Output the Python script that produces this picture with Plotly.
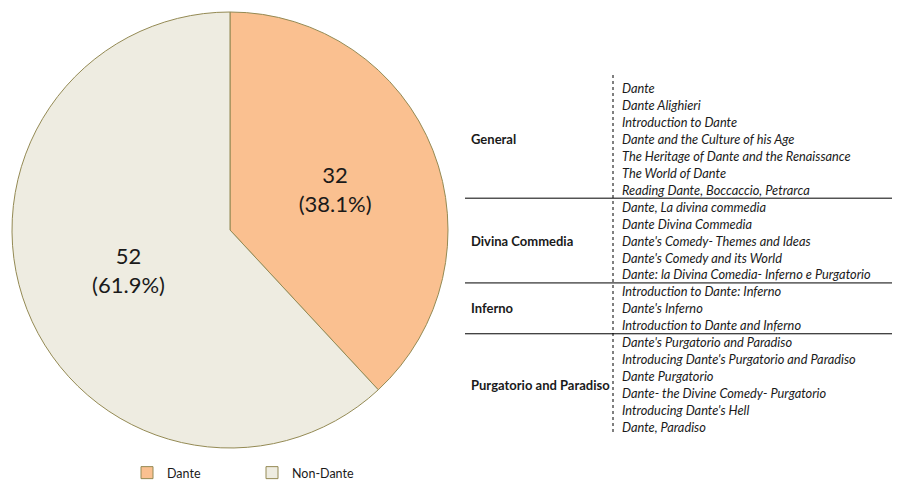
import plotly.graph_objects as go

# ---- data ----
labels = ["Dante", "Non-Dante"]
values = [32, 52]
colors = ["#FAC090", "#EEECE1"]

groups = ["General", "Divina Commedia", "Inferno", "Purgatorio and Paradiso"]
courses = [
    ["Dante", "Dante Alighieri", "Introduction to Dante",
     "Dante and the Culture of his Age",
     "The Heritage of Dante and the Renaissance", "The World of Dante",
     "Reading Dante, Boccaccio, Petrarca"],
    ["Dante, La divina commedia", "Dante Divina Commedia",
     "Dante's Comedy- Themes and Ideas", "Dante's Comedy and its World",
     "Dante: la Divina Comedia- Inferno e Purgatorio"],
    ["Introduction to Dante: Inferno", "Dante's Inferno",
     "Introduction to Dante and Inferno"],
    ["Dante's Purgatorio and Paradiso",
     "Introducing Dante's Purgatorio and Paradiso", "Dante Purgatorio",
     "Dante- the Divine Comedy- Purgatorio", "Introducing Dante's Hell",
     "Dante, Paradiso"],
]

# page body adds an 8px offset; size the figure to fit the 900x480 window
OFF = 8
W, H = 900 - OFF, 480 - OFF
def px(x):
    return (x - OFF) / W
def py(y):
    return 1 - (y - OFF) / H

FONT = "Lato, 'Open Sans', sans-serif"

fig = go.Figure(go.Pie(
    labels=labels, values=values, sort=False, direction="clockwise",
    rotation=0,
    marker=dict(colors=colors, line=dict(color="#948A54", width=1)),
    texttemplate="%{value}<br>(%{percent:.1%})",
    textposition="inside", insidetextorientation="horizontal",
    textfont=dict(size=22, color="#1a1a1a", family=FONT),
    domain=dict(x=[px(11), px(449)], y=[py(448), py(12)]),
    hoverinfo="label+value+percent",
))

annotations = []
shapes = []
row0, step = 88, 16.95
i = 0
for gi, (g, items) in enumerate(zip(groups, courses)):
    start = i
    for it in items:
        y = row0 + i * step
        annotations.append(dict(
            x=px(620), y=py(y), xref="paper", yref="paper",
            text="<i>" + it + "</i>", showarrow=False,
            xanchor="left", yanchor="middle",
            font=dict(size=12.8, color="#1a1a1a", family=FONT)))
        i += 1
    yc = row0 + (start + i - 1) / 2 * step
    annotations.append(dict(
        x=px(469), y=py(yc), xref="paper", yref="paper",
        text="<b>" + g + "</b>", showarrow=False,
        xanchor="left", yanchor="middle",
        font=dict(size=13, color="#1a1a1a", family=FONT)))
    if gi < len(groups) - 1:
        yl = row0 + (i - 0.5) * step
        shapes.append(dict(type="line", xref="paper", yref="paper",
                           x0=px(465), x1=1, y0=py(yl), y1=py(yl),
                           line=dict(color="#000000", width=1)))

shapes.append(dict(type="line", xref="paper", yref="paper",
                   x0=px(613), x1=px(613), y0=py(75), y1=py(435),
                   line=dict(color="#000000", width=1, dash="dot")))

fig.update_layout(
    width=W, height=H,
    margin=dict(l=0, r=0, t=0, b=0, autoexpand=False),
    paper_bgcolor="white", plot_bgcolor="white",
    showlegend=True,
    legend=dict(orientation="h", x=px(127), y=py(473), xanchor="left",
                yanchor="middle", font=dict(size=12.5, color="#1a1a1a", family=FONT),
                itemwidth=30, entrywidth=80, traceorder="normal",
                bgcolor="rgba(0,0,0,0)"),
    annotations=annotations, shapes=shapes,
)

fig.write_html("out.html")
